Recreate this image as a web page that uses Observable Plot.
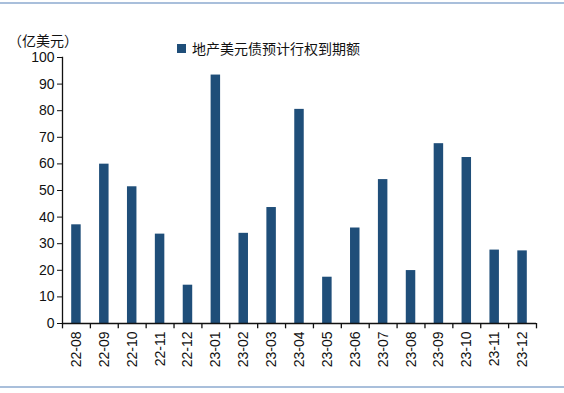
<!DOCTYPE html>
<html>
<head>
<meta charset="utf-8">
<script src="https://cdn.jsdelivr.net/npm/d3@7"></script>
<script src="https://cdn.jsdelivr.net/npm/@observablehq/plot@0.6"></script>
<style>
  html, body { margin: 0; padding: 0; background: #fff; }
  #wrap { position: relative; width: 564px; height: 393px; overflow: hidden; }
  .hline { position: absolute; left: 0; width: 564px; height: 2px; background: #a9bfdb; }
  .unit { position: absolute; left: 8px; top: 30px; line-height: 14px; font: 14px "Noto Sans CJK SC", sans-serif; color: #111; }
  .legend { position: absolute; left: 177px; top: 38px; line-height: 14px; font: 14px "Noto Sans CJK SC", sans-serif; color: #111; display: flex; align-items: center; }
  .legend .sw { width: 9px; height: 9px; background: #1f4e79; margin-right: 6px; }
  svg { position: absolute; left: 0; top: 0; }
</style>
</head>
<body>
<div id="wrap">
  <div class="hline" style="top:2px"></div>
  <div class="hline" style="top:386px"></div>
  <div class="unit">（亿美元）</div>
  <div class="legend"><span class="sw"></span>地产美元债预计行权到期额</div>
</div>
<script>
const months = ["22-08","22-09","22-10","22-11","22-12","23-01","23-02","23-03","23-04","23-05","23-06","23-07","23-08","23-09","23-10","23-11","23-12"];
const amounts = [37.1, 59.9, 51.4, 33.6, 14.4, 93.4, 33.9, 43.6, 80.5, 17.4, 35.9, 54.1, 19.9, 67.6, 62.4, 27.6, 27.3];
const yTicks = [0,10,20,30,40,50,60,70,80,90,100];

const data = months.map((m, i) => ({month: m, value: amounts[i]}));
const W = 564, H = 393, mL = 62, mR = 28, mT = 57, mB = 70;
const bw = (W - mL - mR) / months.length;

const chart = Plot.plot({
  width: W,
  height: H,
  marginLeft: mL,
  marginRight: mR,
  marginTop: mT,
  marginBottom: mB,
  style: {fontFamily: "Liberation Sans, Arial, sans-serif", fontSize: "14px", color: "#111", background: "transparent"},
  x: {domain: months, paddingInner: 0.66, paddingOuter: 0.33, round: false, label: null},
  y: {domain: [0, 100], label: null},
  marks: [
    Plot.barY(data, {x: "month", y: "value", fill: "#1f4e79"}),
    Plot.axisY({ticks: yTicks, tickSize: 5, tickPadding: 3, fontSize: 14, label: null}),
    Plot.axisX({tickSize: 0, tickRotate: -90, tickPadding: 8, fontSize: 14, label: null}),
    Plot.frame({anchor: "left", stroke: "#111", strokeWidth: 1.3}),
    Plot.ruleY([0], {stroke: "#111", strokeWidth: 1.3}),
    Plot.ruleX(months, {x: d => d, y1: 0, y2: -2, dx: -bw / 2, stroke: "#111", strokeWidth: 1.3}),
    Plot.ruleX([months[months.length - 1]], {x: d => d, y1: 0, y2: -2, dx: bw / 2, stroke: "#111", strokeWidth: 1.3})
  ]
});
document.getElementById("wrap").prepend(chart);
</script>
</body>
</html>
